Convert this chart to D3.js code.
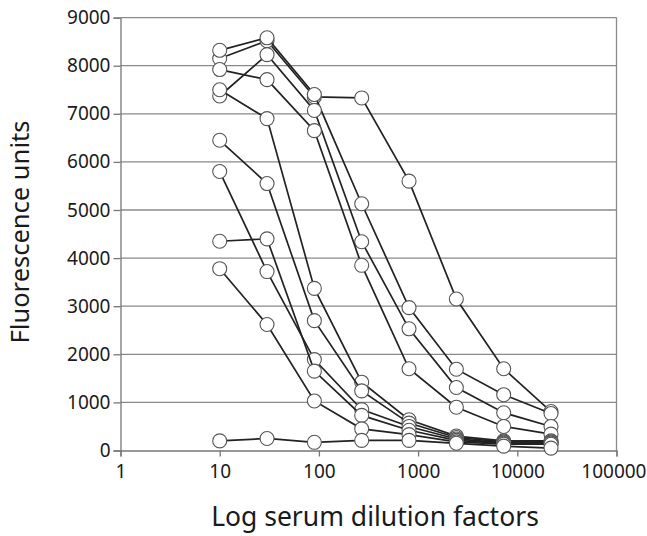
<!DOCTYPE html>
<html><head><meta charset="utf-8">
<script src="https://cdn.jsdelivr.net/npm/d3@7"></script>
<style>body{margin:0;background:#fff}svg{display:block}text{font-family:"Noto Sans",sans-serif;fill:#1a1a1a}</style>
</head><body><svg id="c" width="647" height="536"></svg>
<script>
const dilutions = [10, 30, 90, 270, 810, 2430, 7290, 21870];
const s1 = [8150, 8520, 7350, 7330, 5600, 3150, 1700, 810];
const s2 = [8320, 8580, 7400, 5130, 2970, 1690, 1160, 770];
const s3 = [7370, 8230, 7070, 4340, 2530, 1310, 785, 500];
const s4 = [7920, 7710, 6650, 3850, 1700, 900, 500, 340];
const s5 = [7500, 6900, 3370, 1420, 640, 300, 200, 200];
const s6 = [6450, 5550, 2700, 1240, 570, 270, 180, 180];
const s7 = [5800, 3720, 1890, 850, 500, 240, 160, 160];
const s8 = [4350, 4400, 1650, 730, 420, 210, 150, 150];
const s9 = [3780, 2620, 1030, 450, 330, 180, 130, 130];
const s10 = [200, 250, 170, 210, 210, 150, 90, 50];
const seriesList = [s1, s2, s3, s4, s5, s6, s7, s8, s9, s10];
const xTicks = [1, 10, 100, 1000, 10000, 100000];
const yTicks = [0, 1000, 2000, 3000, 4000, 5000, 6000, 7000, 8000, 9000];

const svg = d3.select("#c");
const x = d3.scaleLog().domain([1, 100000]).range([120.5, 616.5]);
const y = d3.scaleLinear().domain([0, 9000]).range([450.5, 17.6]);

svg.append("g").selectAll("line").data(yTicks.filter(d => d > 0)).join("line")
  .attr("x1", x(1)).attr("x2", x(100000))
  .attr("y1", d => y(d)).attr("y2", d => y(d))
  .attr("stroke", "#8a8a8a").attr("stroke-width", 1.3);
svg.append("line").attr("x1", x(100000)).attr("x2", x(100000))
  .attr("y1", y(9000)).attr("y2", y(0)).attr("stroke", "#8a8a8a").attr("stroke-width", 1.3);

const yAxis = svg.append("g").attr("transform", `translate(${x(1)},0)`)
  .call(d3.axisLeft(y).tickValues(yTicks).tickSize(7).tickPadding(3).tickFormat(d3.format("d")));
const xAxis = svg.append("g").attr("transform", `translate(0,${y(0)})`)
  .call(d3.axisBottom(x).tickValues(xTicks).tickSize(6).tickPadding(8).tickFormat(d3.format("d")));
[yAxis, xAxis].forEach(a => {
  a.select(".domain").attr("stroke", "#777").attr("stroke-width", 1.3);
  a.selectAll(".tick line").attr("stroke", "#777").attr("stroke-width", 1.3);
  a.selectAll("text").attr("font-size", 19).attr("font-family", "Noto Sans").attr("fill", "#1a1a1a");
});
xAxis.selectAll(".tick text").filter(d => d === 100000).attr("text-anchor", "end").attr("x", 646 - x(100000));

const line = d3.line().x((d, i) => x(dilutions[i])).y(d => y(d));
seriesList.forEach(s => {
  const g = svg.append("g");
  g.append("path").attr("d", line(s)).attr("fill", "none").attr("stroke", "#222").attr("stroke-width", 1.7);
  g.selectAll("circle").data(s).join("circle")
    .attr("cx", (d, i) => x(dilutions[i])).attr("cy", d => y(d)).attr("r", 7)
    .attr("fill", "#fff").attr("stroke", "#555").attr("stroke-width", 1.1);
});

svg.append("text").attr("x", 375).attr("y", 526).attr("text-anchor", "middle")
  .attr("font-size", 26.5).text("Log serum dilution factors");
svg.append("text").attr("transform", "translate(29,232) rotate(-90)").attr("text-anchor", "middle")
  .attr("font-size", 25.5).text("Fluorescence units");
</script></body></html>
